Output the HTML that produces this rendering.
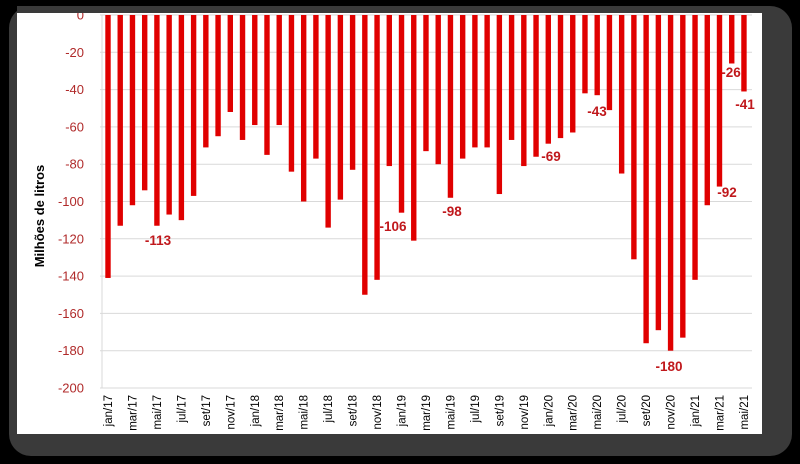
<!DOCTYPE html>
<html><head><meta charset="utf-8"><style>
html,body{margin:0;padding:0;background:#000;}
body{width:800px;height:464px;overflow:hidden;position:relative;font-family:"Liberation Sans",sans-serif;}
</style></head><body>
<svg width="800" height="464" xmlns="http://www.w3.org/2000/svg" style="position:absolute;left:0;top:0">
<rect x="0" y="0" width="800" height="464" fill="#000"/>
<rect x="9" y="6" width="783" height="450" rx="22" fill="#3a3a3a"/>
<rect x="17" y="13" width="745" height="421" fill="#fff"/>
<g id="grid" stroke="#d9d9d9" stroke-width="1"></g>
<g id="bars" fill="#e00000"></g>
<g id="txt"></g>
<rect x="17" y="0" width="745" height="6" fill="#000"/>
<rect x="17" y="6" width="745" height="7" fill="#3a3a3a"/>
</svg>
<script>
const vals=[-141,-113,-102,-94,-113,-107,-110,-97,-71,-65,-52,-67,-59,-75,-59,-84,-100,-77,-114,-99,-83,-150,-142,-81,-106,-121,-73,-80,-98,-77,-71,-71,-96,-67,-81,-76,-69,-66,-63,-42,-43,-51,-85,-131,-176,-169,-180,-173,-142,-102,-92,-26,-41];
const ns="http://www.w3.org/2000/svg";
function el(t,a,p,txt){const e=document.createElementNS(ns,t);for(const k in a)e.setAttribute(k,a[k]);if(txt!==undefined)e.textContent=txt;document.getElementById(p).appendChild(e);return e;}
const y0=15,sc=1.865,x0=108,dx=12.23;
for(let v=0;v>=-200;v-=20){const y=y0-v*sc;
 el('line',{x1:100,x2:752,y1:y,y2:y},'grid');
 el('text',{x:84,y:y+4.5,'text-anchor':'end','font-size':'13','fill':'#b02a2a'},'txt',String(v));}
el('line',{x1:102,x2:102,y1:y0,y2:388},'grid');
const mon=['jan','fev','mar','abr','mai','jun','jul','ago','set','out','nov','dez'];
vals.forEach((v,i)=>{const x=x0+i*dx;el('rect',{x:x-2.7,y:y0,width:5.4,height:-v*sc},'bars');
 if(i%2==0){const lab=mon[i%12]+'/'+(17+Math.floor(i/12));
 el('text',{x:0,y:0,transform:`translate(${x+4},395) rotate(-90)`,'text-anchor':'end','font-size':'11.5','fill':'#000'},'txt',lab);}});
el('text',{x:0,y:0,transform:'translate(44,216) rotate(-90)','text-anchor':'middle','font-size':'13','font-weight':'bold','fill':'#000'},'txt','Milhões de litros');
[[158,245,'-113'],[393,231,'-106'],[452,216,'-98'],[551,161,'-69'],[597,116,'-43'],[669,371,'-180'],[727,197,'-92'],[731,77,'-26'],[745,109,'-41']].forEach(d=>el('text',{x:d[0],y:d[1],'text-anchor':'middle','font-size':'13.5','font-weight':'bold','fill':'#c0181c'},'txt',d[2]));
</script>
</body></html>
